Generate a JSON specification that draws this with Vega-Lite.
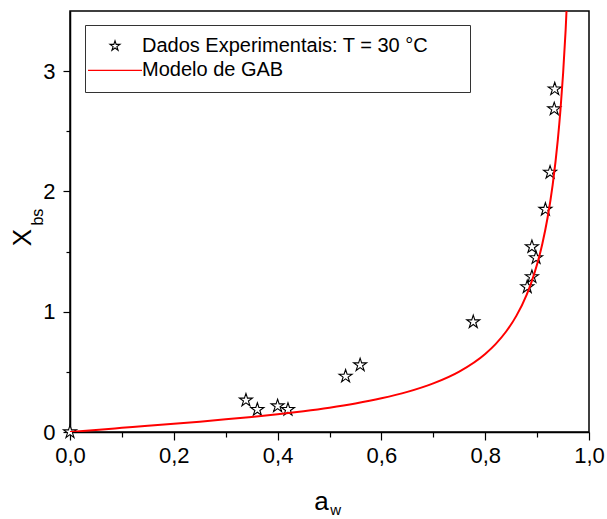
{
  "$schema": "https://vega.github.io/schema/vega-lite/v6.json",
  "width": 519,
  "height": 421,
  "autosize": "none",
  "padding": {"left": 70, "top": 11, "right": 18, "bottom": 87},
  "background": "white",
  "config": {
    "font": "Liberation Sans",
    "view": {"stroke": "black", "strokeWidth": 1.5},
    "axis": {
      "grid": false,
      "domainColor": "black",
      "domainWidth": 1.5,
      "tickColor": "black",
      "tickWidth": 1.2,
      "labelColor": "black",
      "titleColor": "black",
      "labelFont": "Liberation Sans",
      "titleFont": "Liberation Sans",
      "titleFontWeight": "normal",
      "labelFontSize": 22,
      "titleFontSize": 26
    },
    "legend": {
      "orient": "none",
      "direction": "vertical",
      "legendX": 15,
      "legendY": 14,
      "padding": 11,
      "strokeColor": "#333333",
      "fillColor": "white",
      "strokeWidth": 1,
      "labelFont": "Liberation Sans",
      "labelFontSize": 20,
      "labelColor": "black",
      "labelLimit": 800,
      "labelOffset": 17,
      "symbolOffset": 9,
      "symbolSize": 110,
      "rowPadding": 4.4,
      "symbolFillColor": "white",
      "symbolStrokeWidth": 1.1
    }
  },
  "datasets": {
    "experimental": [
      {"aw": 0.0, "X": 0.0, "series": "Dados Experimentais: T = 30 °C"},
      {"aw": 0.339, "X": 0.264, "series": "Dados Experimentais: T = 30 °C"},
      {"aw": 0.361, "X": 0.186, "series": "Dados Experimentais: T = 30 °C"},
      {"aw": 0.400, "X": 0.216, "series": "Dados Experimentais: T = 30 °C"},
      {"aw": 0.420, "X": 0.186, "series": "Dados Experimentais: T = 30 °C"},
      {"aw": 0.531, "X": 0.463, "series": "Dados Experimentais: T = 30 °C"},
      {"aw": 0.559, "X": 0.557, "series": "Dados Experimentais: T = 30 °C"},
      {"aw": 0.777, "X": 0.915, "series": "Dados Experimentais: T = 30 °C"},
      {"aw": 0.881, "X": 1.206, "series": "Dados Experimentais: T = 30 °C"},
      {"aw": 0.890, "X": 1.290, "series": "Dados Experimentais: T = 30 °C"},
      {"aw": 0.898, "X": 1.448, "series": "Dados Experimentais: T = 30 °C"},
      {"aw": 0.890, "X": 1.539, "series": "Dados Experimentais: T = 30 °C"},
      {"aw": 0.916, "X": 1.850, "series": "Dados Experimentais: T = 30 °C"},
      {"aw": 0.925, "X": 2.158, "series": "Dados Experimentais: T = 30 °C"},
      {"aw": 0.933, "X": 2.685, "series": "Dados Experimentais: T = 30 °C"},
      {"aw": 0.934, "X": 2.851, "series": "Dados Experimentais: T = 30 °C"}
    ],
    "model": [
      {"aw": 0.0, "X": 0.0, "series": "Modelo de GAB"},
      {"aw": 0.05, "X": 0.0175, "series": "Modelo de GAB"},
      {"aw": 0.1, "X": 0.0345, "series": "Modelo de GAB"},
      {"aw": 0.15, "X": 0.0514, "series": "Modelo de GAB"},
      {"aw": 0.2, "X": 0.0685, "series": "Modelo de GAB"},
      {"aw": 0.25, "X": 0.0862, "series": "Modelo de GAB"},
      {"aw": 0.3, "X": 0.1050, "series": "Modelo de GAB"},
      {"aw": 0.35, "X": 0.1253, "series": "Modelo de GAB"},
      {"aw": 0.4, "X": 0.1478, "series": "Modelo de GAB"},
      {"aw": 0.45, "X": 0.1732, "series": "Modelo de GAB"},
      {"aw": 0.5, "X": 0.2025, "series": "Modelo de GAB"},
      {"aw": 0.55, "X": 0.2373, "series": "Modelo de GAB"},
      {"aw": 0.6, "X": 0.2799, "series": "Modelo de GAB"},
      {"aw": 0.65, "X": 0.3335, "series": "Modelo de GAB"},
      {"aw": 0.7, "X": 0.4042, "series": "Modelo de GAB"},
      {"aw": 0.75, "X": 0.5023, "series": "Modelo de GAB"},
      {"aw": 0.8, "X": 0.649, "series": "Modelo de GAB"},
      {"aw": 0.82, "X": 0.7309, "series": "Modelo de GAB"},
      {"aw": 0.84, "X": 0.8332, "series": "Modelo de GAB"},
      {"aw": 0.86, "X": 0.9655, "series": "Modelo de GAB"},
      {"aw": 0.88, "X": 1.1430, "series": "Modelo de GAB"},
      {"aw": 0.89, "X": 1.2567, "series": "Modelo de GAB"},
      {"aw": 0.90, "X": 1.3941, "series": "Modelo de GAB"},
      {"aw": 0.91, "X": 1.5633, "series": "Modelo de GAB"},
      {"aw": 0.92, "X": 1.7770, "series": "Modelo de GAB"},
      {"aw": 0.93, "X": 2.0551, "series": "Modelo de GAB"},
      {"aw": 0.94, "X": 2.4326, "series": "Modelo de GAB"},
      {"aw": 0.945, "X": 2.6768, "series": "Modelo de GAB"},
      {"aw": 0.95, "X": 2.9739, "series": "Modelo de GAB"},
      {"aw": 0.955, "X": 3.3435, "series": "Modelo de GAB"},
      {"aw": 0.96, "X": 3.8157, "series": "Modelo de GAB"}
    ]
  },
  "layer": [
    {
      "data": {"name": "experimental"},
      "mark": {"type": "point", "filled": false, "fill": "white", "strokeWidth": 1.1, "size": 187, "opacity": 1},
      "encoding": {
        "x": {
          "field": "aw", "type": "quantitative",
          "scale": {"domain": [0, 1], "nice": false, "zero": false},
          "axis": {"orient": "bottom", "values": [0.1, 0.3, 0.5, 0.7, 0.9], "labels": false, "domain": false, "tickSize": 5, "title": null}
        },
        "y": {
          "field": "X", "type": "quantitative",
          "scale": {"domain": [0, 3.5], "nice": false, "zero": false},
          "axis": {"orient": "left", "values": [0.5, 1.5, 2.5], "labels": false, "domain": false, "tickSize": 4, "title": null}
        },
        "color": {
          "field": "series", "type": "nominal",
          "scale": {"domain": ["Dados Experimentais: T = 30 °C", "Modelo de GAB"], "range": ["black", "#ff0000"]},
          "legend": {
            "title": null,
            "labelExpr": "datum.label + '\u2800\u2800'",
            "encode": {"symbols": {"update": {"strokeWidth": {"signal": "datum.value === 'Modelo de GAB' ? 2 : 1.1"}}}}
          }
        },
        "shape": {
          "field": "series", "type": "nominal",
          "scale": {"domain": ["Dados Experimentais: T = 30 °C", "Modelo de GAB"], "range": ["M0,-1L0.2245,-0.309L0.9511,-0.309L0.3633,0.118L0.5878,0.809L0,0.382L-0.5878,0.809L-0.3633,0.118L-0.9511,-0.309L-0.2245,-0.309Z", "M-5.15,0H5.15"]},
          "legend": {
            "title": null,
            "labelExpr": "datum.label + '\u2800\u2800'",
            "encode": {"symbols": {"update": {"strokeWidth": {"signal": "datum.value === 'Modelo de GAB' ? 2 : 1.1"}}}}
          }
        }
      }
    },
    {
      "data": {"name": "model"},
      "mark": {"type": "line", "color": "#ff0000", "strokeWidth": 2, "clip": true, "interpolate": "monotone"},
      "encoding": {
        "x": {
          "field": "aw", "type": "quantitative",
          "scale": {"domain": [0, 1], "nice": false, "zero": false},
          "axis": {
            "orient": "bottom", "values": [0, 0.2, 0.4, 0.6, 0.8, 1.0], "format": ".1f",
            "labelExpr": "replace(datum.label, '.', ',')",
            "tickSize": 8, "labelPadding": 5, "labelFlush": false, "labelOverlap": false,
            "title": "a", "titleX": 251, "titleY": 69, "titleBaseline": "middle", "titleAlign": "center"
          }
        },
        "y": {
          "field": "X", "type": "quantitative",
          "scale": {"domain": [0, 3.5], "nice": false, "zero": false},
          "axis": {
            "orient": "left", "values": [0, 1, 2, 3], "format": "d",
            "tickSize": 7, "labelPadding": 8, "labelFlush": false, "labelOverlap": false,
            "title": "X", "titleX": -47.5, "titleY": 226, "titleBaseline": "middle", "titleAlign": "center", "titleAngle": 270
          }
        },
        "color": {"field": "series", "type": "nominal"}
      }
    },
    {
      "data": {"values": [{}]},
      "mark": {"type": "text", "text": "bs", "font": "Liberation Sans", "fontSize": 16, "angle": 270, "align": "center", "baseline": "middle", "color": "black"},
      "encoding": {
        "x": {"datum": -0.0622, "type": "quantitative", "axis": null},
        "y": {"datum": 1.786, "type": "quantitative", "axis": null}
      }
    },
    {
      "data": {"values": [{}]},
      "mark": {"type": "text", "text": "w", "font": "Liberation Sans", "fontSize": 15, "align": "center", "baseline": "middle", "color": "black"},
      "encoding": {
        "x": {"datum": 0.512, "type": "quantitative", "axis": null},
        "y": {"datum": -0.65, "type": "quantitative", "axis": null}
      }
    }
  ],
  "resolve": {"axis": {"x": "independent", "y": "independent"}}
}
